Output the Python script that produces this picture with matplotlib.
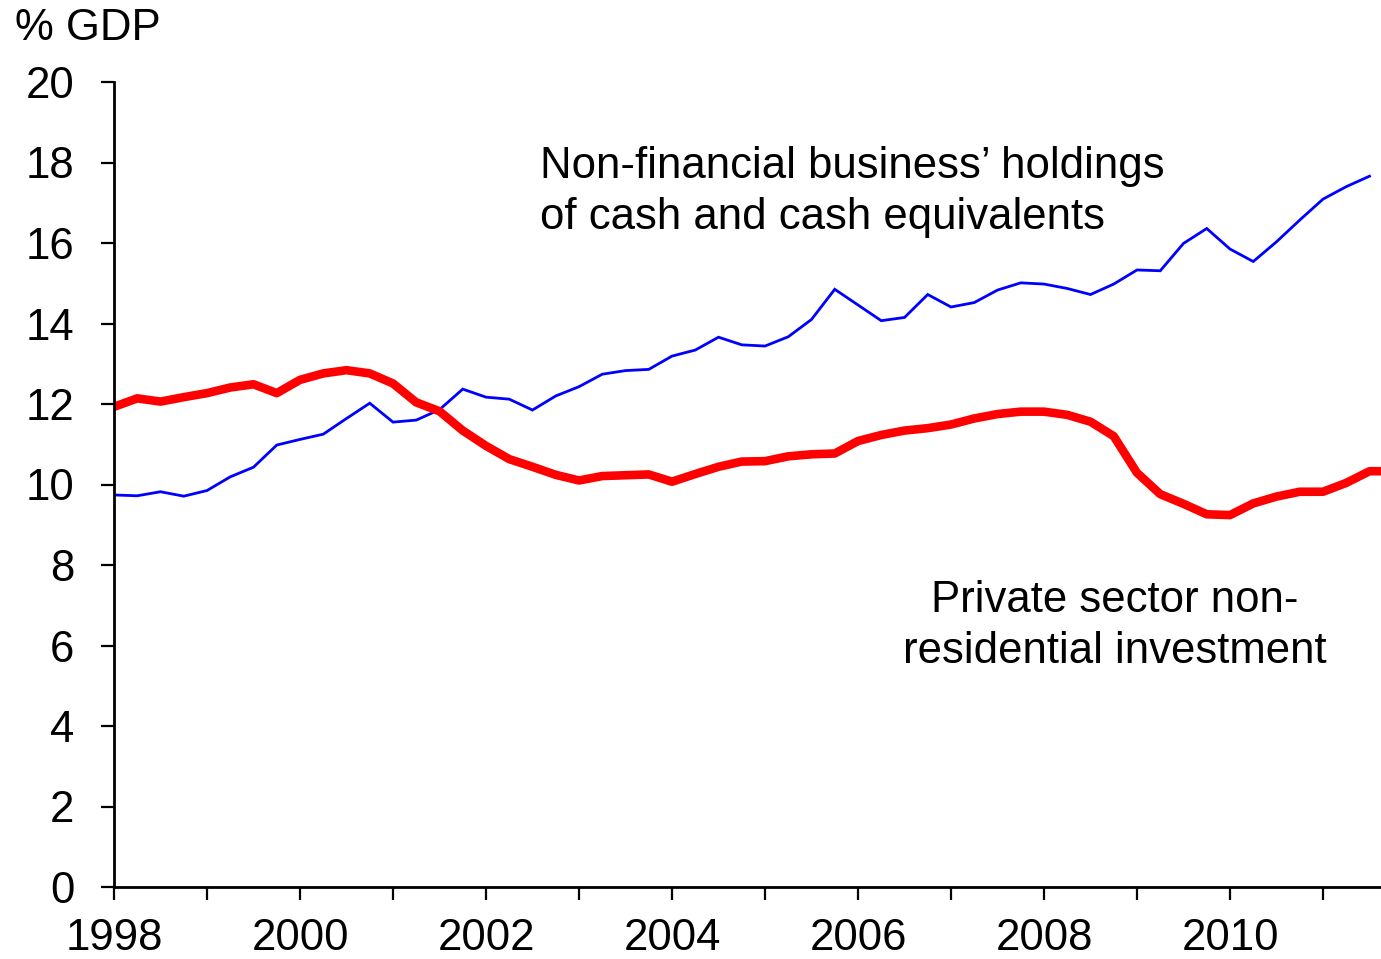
import numpy as np
import matplotlib.pyplot as plt
from matplotlib.ticker import MultipleLocator

plt.rcParams['font.family'] = ['Liberation Sans', 'DejaVu Sans']

# quarterly observations, starting 1998 Q1
cash = [9.74, 9.72, 9.82, 9.71, 9.85, 10.19, 10.43, 10.98, 11.12, 11.25,
        11.64, 12.02, 11.55, 11.60, 11.86, 12.37, 12.17, 12.12, 11.85, 12.20,
        12.43, 12.74, 12.83, 12.86, 13.19, 13.34, 13.66, 13.47, 13.44, 13.67,
        14.10, 14.85, 14.46, 14.07, 14.15, 14.72, 14.41, 14.52, 14.83, 15.01,
        14.98, 14.87, 14.72, 14.98, 15.33, 15.31, 15.99, 16.36, 15.85, 15.54,
        16.03, 16.57, 17.09, 17.40, 17.66]
invest = [11.93, 12.14, 12.06, 12.17, 12.27, 12.41, 12.49, 12.27, 12.60, 12.76,
          12.84, 12.76, 12.51, 12.04, 11.82, 11.34, 10.96, 10.63, 10.44, 10.24,
          10.10, 10.21, 10.23, 10.25, 10.07, 10.26, 10.44, 10.57, 10.58, 10.70,
          10.75, 10.77, 11.08, 11.23, 11.34, 11.40, 11.49, 11.64, 11.75, 11.81,
          11.81, 11.73, 11.56, 11.20, 10.29, 9.76, 9.52, 9.26, 9.24, 9.53,
          9.70, 9.82, 9.82, 10.04, 10.33, 10.33]

t_cash = 1998 + np.arange(len(cash)) / 4
t_inv = 1998 + np.arange(len(invest)) / 4

fig = plt.figure(figsize=(13.81, 9.59), dpi=100)
ax = fig.add_axes([114/1381, 72/959, 1 - 114/1381, 805/959])

ax.plot(t_cash, cash, color='#0000ff', linewidth=2.0, solid_joinstyle='miter')
ax.plot(t_inv, invest, color='#ff0000', linewidth=6.2, solid_joinstyle='round')

ax.set_xlim(1998, 1998 + 1267/93)
ax.set_ylim(0, 20)
ax.xaxis.set_major_locator(MultipleLocator(2))
ax.xaxis.set_minor_locator(MultipleLocator(1))
ax.yaxis.set_major_locator(MultipleLocator(2))

for side in ['top', 'right']:
    ax.spines[side].set_visible(False)
for side in ['left', 'bottom']:
    ax.spines[side].set_linewidth(2)
    ax.spines[side].set_clip_on(False)

ax.tick_params(axis='both', which='both', direction='out', length=9.5, width=1.6,
               labelsize=31.5, color='black')
ax.tick_params(axis='y', pad=19)
ax.tick_params(axis='x', pad=13)
ax.tick_params(axis='y', which='minor', left=False)

ax.text(2002.58, 17.27, 'Non-financial business\u2019 holdings\nof cash and cash equivalents',
        fontsize=31.5, ha='left', va='center', linespacing=1.31)
ax.text(2008.76, 6.49, 'Private sector non-\nresidential investment',
        fontsize=31.5, ha='center', va='center', linespacing=1.31)
fig.text(15/1381, 1 - 28/959, '% GDP', fontsize=31.5, ha='left', va='center')

plt.savefig('out.png', dpi=100)
